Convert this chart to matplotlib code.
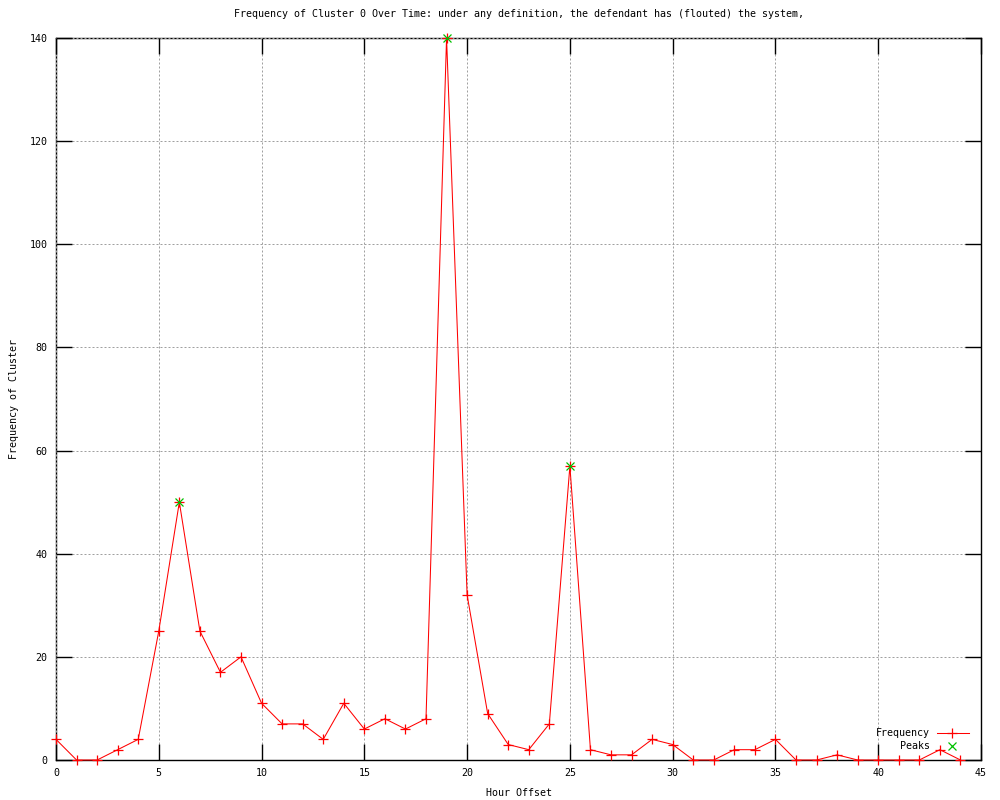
import matplotlib
matplotlib.use("Agg")
import matplotlib.pyplot as plt

# hourly frequency of cluster 0
hours = list(range(45))
freq = [4, 0, 0, 2, 4, 25, 50, 25, 17, 20,
        11, 7, 7, 4, 11, 6, 8, 6, 8, 140,
        32, 9, 3, 2, 7, 57, 2, 1, 1, 4,
        3, 0, 0, 2, 2, 4, 0, 0, 1, 0,
        0, 0, 0, 2, 0]
peak_hours = [6, 19, 25]
peak_vals = [50, 140, 57]

TITLE = "Frequency of Cluster 0 Over Time: under any definition, the defendant has (flouted) the system,"
FONT = "DejaVu Sans Mono"
FS = 7.2

plt.rcParams["font.family"] = FONT
plt.rcParams["font.size"] = FS

fig = plt.figure(figsize=(10, 8), dpi=100)
ax = fig.add_axes([0.056, 0.05, 0.925, 0.9025])

ax.plot(hours, freq, color="red", linewidth=0.75, marker="+", markersize=7,
        markeredgewidth=0.9, clip_on=False, zorder=3)
ax.plot(peak_hours, peak_vals, linestyle="none", color="#00c000", marker="x",
        markersize=5.5, markeredgewidth=0.9, clip_on=False, zorder=4)

ax.set_xlim(0, 45)
ax.set_ylim(0, 140)
ax.set_xticks(range(0, 46, 5))
ax.set_yticks(range(0, 141, 20))
ax.tick_params(direction="in", length=11.5, width=1, top=True, right=True,
               labelsize=FS, pad=6, colors="black")
ax.grid(True, color="#a0a0a0", linestyle=(0, (2, 2)), linewidth=0.72)
ax.set_axisbelow(False)
for sp in ax.spines.values():
    sp.set_linewidth(1)

ax.set_title(TITLE, fontsize=FS, pad=15)
ax.set_xlabel("Hour Offset", fontsize=FS, labelpad=7)
ax.set_ylabel("Frequency of Cluster", fontsize=FS, labelpad=8)

# gnuplot-style key, text right-aligned, sample to the right
key = [("Frequency", dict(color="red", linewidth=0.75, marker="+", markersize=7,
                          markeredgewidth=0.9, markevery=[1])),
       ("Peaks", dict(color="#00c000", linestyle="none", marker="x",
                      markersize=5.5, markeredgewidth=0.9, markevery=[1]))]
for i, (label, style) in enumerate(key):
    yk = 0.0375 - i * 0.018
    ax.text(0.945, yk, label, transform=ax.transAxes, ha="right", va="center",
            fontsize=FS)
    ax.plot([0.952, 0.969, 0.987], [yk, yk, yk], transform=ax.transAxes,
            clip_on=False, **style)

fig.savefig("out.png", dpi=100)
